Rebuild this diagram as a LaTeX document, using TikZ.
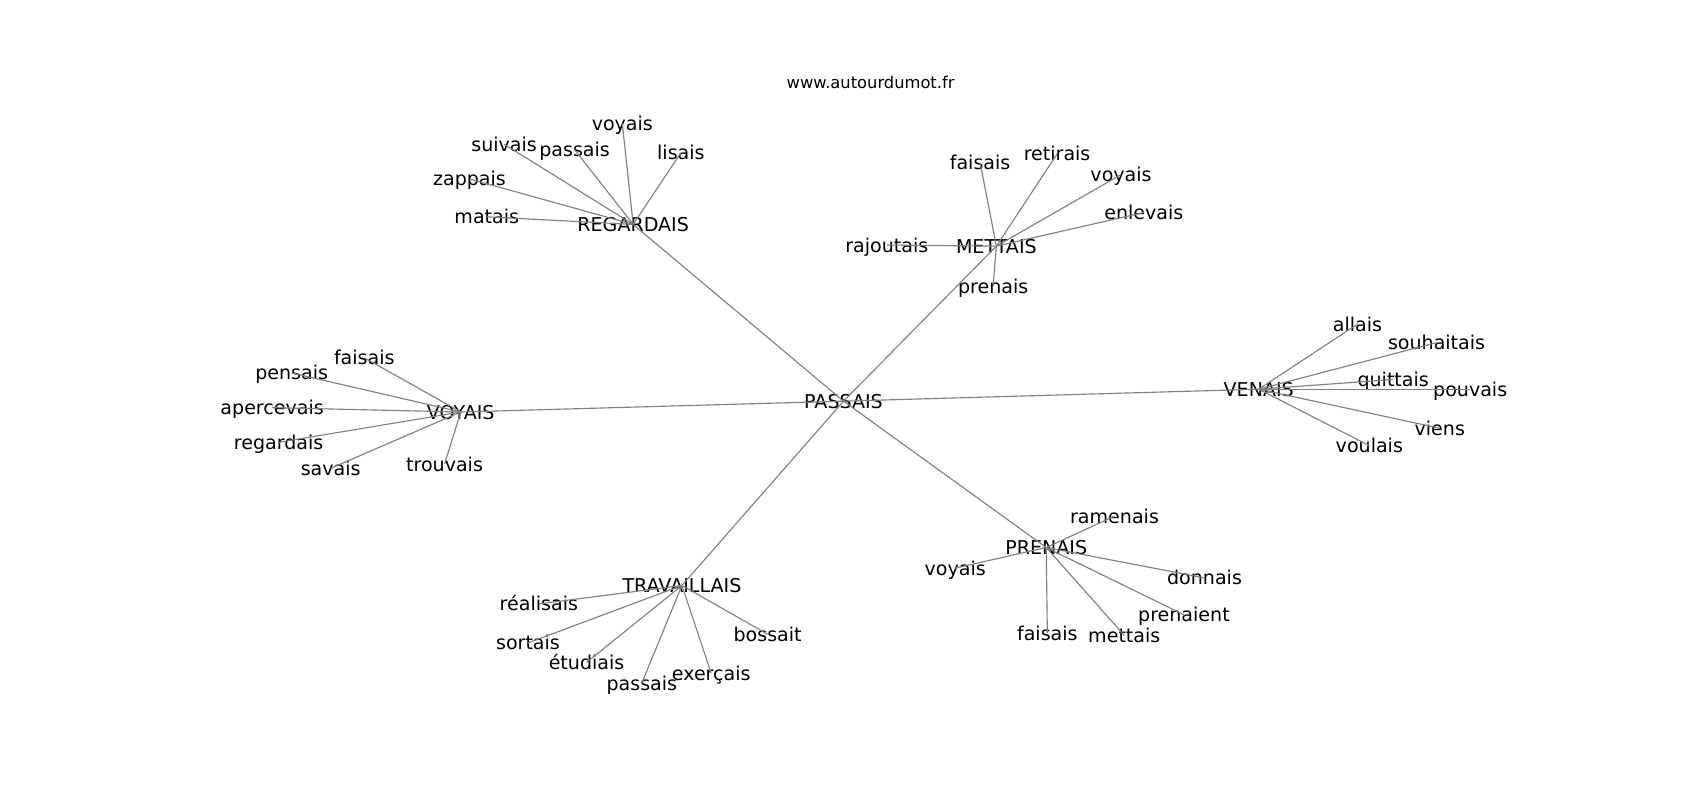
\documentclass[tikz,border=0pt]{standalone}
\usepackage{fontspec}
\setmainfont{DejaVu Sans}
\usetikzlibrary{positioning}

\tikzset{
    word/.style={font=\fontsize{12.5}{14}\selectfont, inner sep=0pt,
                 text height=12pt, text depth=2.8pt},
    site/.style={font=\fontsize{10.7}{12}\selectfont, inner sep=0pt},
    link/.style={draw=gray, line width=0.75pt}
}

\begin{document}
\begin{tikzpicture}[x=0.025cm, y=-0.025cm]
    \useasboundingbox (0,0) rectangle (1568,738);

    % Title
    \node[site] (site) at (803,76) {www.autourdumot.fr};

    % Centre and hubs
    \node[word] (passais) at (778,370) {PASSAIS};
    \node[word] (regardais) at (584,207) {REGARDAIS};
    \node[word] (mettais) at (919,227) {METTAIS};
    \node[word] (voyais) at (425,380) {VOYAIS};
    \node[word] (venais) at (1161,359) {VENAIS};
    \node[word] (prenais) at (965,505) {PRENAIS};
    \node[word] (travaillais) at (629,540) {TRAVAILLAIS};

    % REGARDAIS
    \node[word] (r-voyais) at (574,114) {voyais};
    \node[word] (r-lisais) at (628,141) {lisais};
    \node[word] (r-passais) at (530,138) {passais};
    \node[word] (r-suivais) at (465,133) {suivais};
    \node[word] (r-zappais) at (433,165) {zappais};
    \node[word] (r-matais) at (449,200) {matais};

    % METTAIS
    \node[word] (m-faisais) at (904,150) {faisais};
    \node[word] (m-retirais) at (975,142) {retirais};
    \node[word] (m-voyais) at (1034,161) {voyais};
    \node[word] (m-enlevais) at (1055,196) {enlevais};
    \node[word] (m-rajoutais) at (818,226) {rajoutais};
    \node[word] (m-prenais) at (916,264) {prenais};

    % VENAIS
    \node[word] (e-allais) at (1252,299) {allais};
    \node[word] (e-souhaitais) at (1325,316) {souhaitais};
    \node[word] (e-quittais) at (1285,350) {quittais};
    \node[word] (e-pouvais) at (1356,359) {pouvais};
    \node[word] (e-viens) at (1328,395) {viens};
    \node[word] (e-voulais) at (1263,411) {voulais};

    % VOYAIS
    \node[word] (v-faisais) at (336,330) {faisais};
    \node[word] (v-pensais) at (269,344) {pensais};
    \node[word] (v-apercevais) at (251,376) {apercevais};
    \node[word] (v-regardais) at (257,408) {regardais};
    \node[word] (v-savais) at (305,432) {savais};
    \node[word] (v-trouvais) at (410,428) {trouvais};

    % PRENAIS
    \node[word] (p-ramenais) at (1028,476) {ramenais};
    \node[word] (p-voyais) at (881,524) {voyais};
    \node[word] (p-donnais) at (1111,533) {donnais};
    \node[word] (p-prenaient) at (1092,567) {prenaient};
    \node[word] (p-mettais) at (1037,586) {mettais};
    \node[word] (p-faisais) at (966,584) {faisais};

    % TRAVAILLAIS
    \node[word] (t-realisais) at (497,557) {réalisais};
    \node[word] (t-sortais) at (487,593) {sortais};
    \node[word] (t-etudiais) at (541,611) {étudiais};
    \node[word] (t-passais) at (592,630) {passais};
    \node[word] (t-exercais) at (656,621) {exerçais};
    \node[word] (t-bossait) at (708,585) {bossait};

    % Links
    \foreach \hub in {regardais, mettais, voyais, venais, prenais, travaillais}
        \draw[link] (passais.center) -- (\hub.center);
    \foreach \leaf in {voyais, lisais, passais, suivais, zappais, matais}
        \draw[link] (regardais.center) -- (r-\leaf.center);
    \foreach \leaf in {faisais, retirais, voyais, enlevais, rajoutais, prenais}
        \draw[link] (mettais.center) -- (m-\leaf.center);
    \foreach \leaf in {allais, souhaitais, quittais, pouvais, viens, voulais}
        \draw[link] (venais.center) -- (e-\leaf.center);
    \foreach \leaf in {faisais, pensais, apercevais, regardais, savais, trouvais}
        \draw[link] (voyais.center) -- (v-\leaf.center);
    \foreach \leaf in {ramenais, voyais, donnais, prenaient, mettais, faisais}
        \draw[link] (prenais.center) -- (p-\leaf.center);
    \foreach \leaf in {realisais, sortais, etudiais, passais, exercais, bossait}
        \draw[link] (travaillais.center) -- (t-\leaf.center);
\end{tikzpicture}
\end{document}
